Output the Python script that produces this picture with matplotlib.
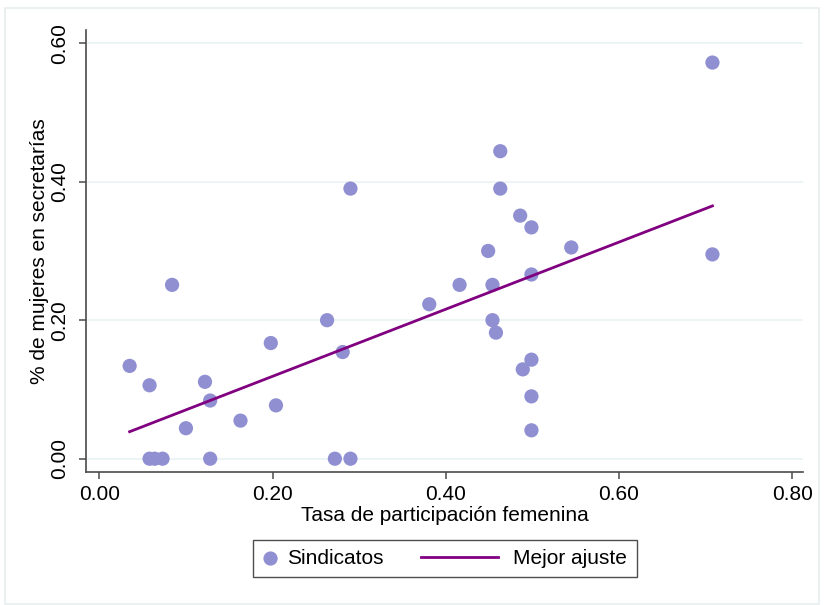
import numpy as np
import matplotlib.pyplot as plt
from matplotlib.patches import Rectangle
from matplotlib.legend_handler import HandlerLine2D

# tasa de participacion femenina (x) y % de mujeres en secretarias (y)
x_tasa = [0.035, 0.058, 0.084, 0.058, 0.064, 0.073, 0.100, 0.122, 0.128, 0.128,
          0.163, 0.198, 0.204, 0.263, 0.281, 0.272, 0.290, 0.290, 0.381, 0.416,
          0.449, 0.454, 0.463, 0.463, 0.486, 0.499, 0.545, 0.499, 0.454, 0.458,
          0.499, 0.489, 0.499, 0.499, 0.708, 0.708]
y_secre = [0.134, 0.106, 0.251, 0.000, 0.000, 0.000, 0.044, 0.111, 0.084, 0.000,
           0.055, 0.167, 0.077, 0.200, 0.154, 0.000, 0.000, 0.390, 0.223, 0.251,
           0.300, 0.251, 0.444, 0.390, 0.351, 0.334, 0.305, 0.266, 0.200, 0.182,
           0.143, 0.129, 0.090, 0.041, 0.572, 0.295]

# extremos de la recta de mejor ajuste
fit_x = [0.035, 0.708]
fit_y = [0.039, 0.365]

xticks = [0.0, 0.2, 0.4, 0.6, 0.8]
yticks = [0.0, 0.2, 0.4, 0.6]


class LongLine(HandlerLine2D):
    # clave de linea mas larga que el hueco del simbolo (como en Stata)
    def get_xdata(self, legend, xdescent, ydescent, width, height, fontsize):
        L = 3.7 * fontsize
        d = 0.35 * fontsize
        xd = np.array([-xdescent + width - d - L, -xdescent + width - d])
        return xd, xd


plt.rcParams['font.family'] = ['Liberation Sans', 'DejaVu Sans']

fig = plt.figure(figsize=(8.27, 6.05), dpi=100)
fig.patch.set_facecolor('white')
# marco exterior del grafico
fig.patches.append(Rectangle((5/827, 1-604/605), 814/827, 596/605, transform=fig.transFigure,
                             fill=False, edgecolor='#e8eeee', linewidth=1.2))

ax = fig.add_axes([86/827, 1-472/605, 717/827, 442/605])
ax.set_xlim(-0.0154, 0.8126)
ax.set_ylim(-0.0192, 0.619)

sc = ax.scatter(x_tasa, y_secre, s=105, color='#8f8fd2', edgecolors='none', zorder=3, label='Sindicatos')
ln, = ax.plot(fit_x, fit_y, color='#800080', lw=2, zorder=4, label='Mejor ajuste')

ax.set_xticks(xticks)
ax.set_yticks(yticks)
ax.set_xticklabels(['%.2f' % v for v in xticks])
ax.set_yticklabels(['%.2f' % v for v in yticks], rotation=90, va='center')
ax.yaxis.grid(True, color='#eaf2f3', lw=1.2)
ax.set_axisbelow(True)
for s in ['top', 'right']:
    ax.spines[s].set_visible(False)
for s in ['left', 'bottom']:
    ax.spines[s].set_color('#4a4a4a')
    ax.spines[s].set_linewidth(1.2)
ax.tick_params(axis='both', labelsize=15, color='#4a4a4a', length=5, width=1.1)
ax.tick_params(axis='y', pad=7)
ax.tick_params(axis='x', pad=4)

ax.set_xlabel('Tasa de participación femenina', fontsize=15, labelpad=2)
ax.set_ylabel('% de mujeres en secretarías', fontsize=15, labelpad=1)

leg = fig.legend(handles=[sc, ln], loc='center', bbox_to_anchor=(445/827, 1-558.5/605), ncol=2,
                 fontsize=15, frameon=True, fancybox=False, edgecolor='#222222',
                 columnspacing=5.1, handlelength=0.75, handletextpad=0.4, borderpad=0.45,
                 handler_map={ln: LongLine()})
leg.get_frame().set_linewidth(1.0)

fig.savefig('out.png', dpi=100)
